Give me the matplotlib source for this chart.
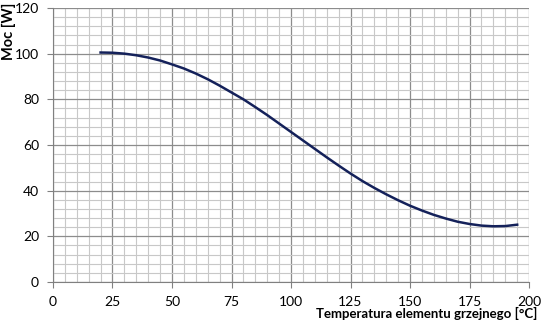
import matplotlib.pyplot as plt
import numpy as np

# odczyt z wykresu
temperatura = [20, 25, 30, 35, 40, 45, 50, 55, 60, 65, 70, 75, 80, 85, 90, 95,
               100, 105, 110, 115, 120, 125, 130, 135, 140, 145, 150, 155, 160,
               165, 170, 175, 180, 185, 190, 195]
moc = [100.5, 100.4, 100.0, 99.3, 98.3, 97.0, 95.3, 93.5, 91.3, 88.8, 86.0, 83.0,
       80.0, 76.6, 73.1, 69.4, 65.7, 62.0, 58.3, 54.6, 51.0, 47.5, 44.2, 41.2,
       38.4, 35.8, 33.4, 31.3, 29.4, 27.8, 26.4, 25.4, 24.7, 24.4, 24.5, 25.1]

plt.rcParams['font.family'] = ['Lato', 'DejaVu Sans']

fig = plt.figure(figsize=(5.46, 3.27), dpi=100)
ax = fig.add_axes([0.097, 0.1376, 0.872, 0.838])

ax.plot(temperatura, moc, color='#14215a', linewidth=1.8, zorder=3)

ax.set_xlim(0, 200)
ax.set_ylim(0, 120)
ax.set_xticks(np.arange(0, 201, 25))
ax.set_yticks(np.arange(0, 121, 20))
ax.set_xticks(np.arange(0, 201, 5), minor=True)
ax.set_yticks(np.arange(0, 121, 4), minor=True)
ax.grid(which='major', color='#8c8c8c', linewidth=0.9)
ax.grid(which='minor', color='#c8c8c8', linewidth=0.8)
ax.set_axisbelow(True)

ax.tick_params(which='major', direction='out', length=4, color='#808080',
               labelsize=10, pad=6)
ax.tick_params(which='minor', length=0)
for s in ['top', 'right']:
    ax.spines[s].set_visible(False)
for s in ['left', 'bottom']:
    ax.spines[s].set_color('#808080')

fig.text(0.016, 0.905, 'Moc [W]', rotation=90, ha='center', va='center',
         fontsize=10.5, fontweight='bold')
fig.text(0.985, 0.02, 'Temperatura elementu grzejnego [°C]', ha='right',
         va='bottom', fontsize=9.5, fontweight='bold')

fig.savefig('out.png', dpi=100)
